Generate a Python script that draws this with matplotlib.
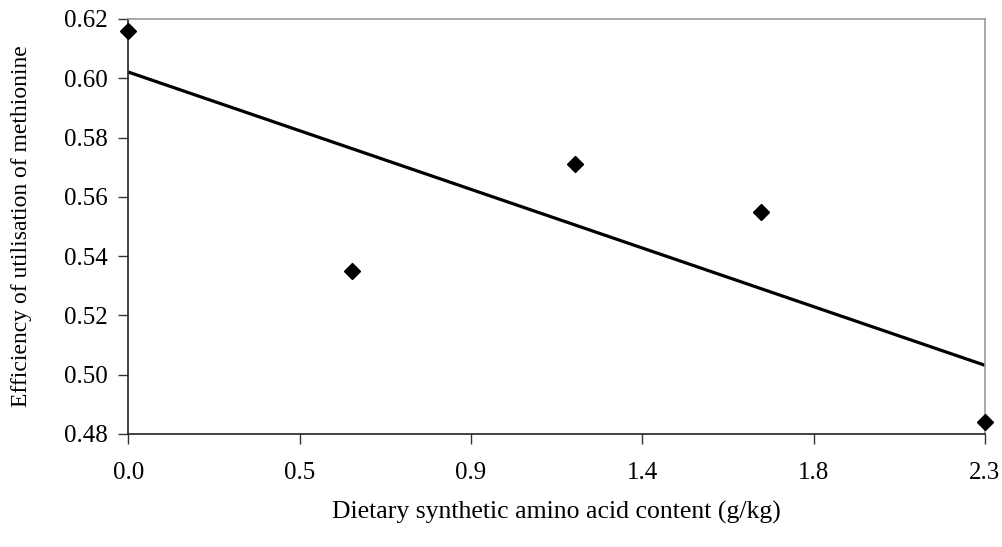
import numpy as np
import matplotlib
matplotlib.use('Agg')
import matplotlib.pyplot as plt

# ── Data ────────────────────────────────────────────────────────────────────
aa_content = [0.0, 0.6, 1.2, 1.7, 2.3]          # g/kg synthetic amino acid
efficiency = [0.616, 0.535, 0.571, 0.555, 0.484]  # utilisation of methionine

x_ticks = np.linspace(0.0, 2.3, 6)
x_tick_labels = ['0.0', '0.5', '0.9', '1.4', '1.8', '2.3']
y_ticks = [0.48, 0.50, 0.52, 0.54, 0.56, 0.58, 0.60, 0.62]

plt.rcParams['font.family'] = ['Liberation Serif', 'DejaVu Serif']

fig = plt.figure(figsize=(10.03, 5.47), dpi=100)
ax = fig.add_axes([0.128, 0.2066, 0.854, 0.7587])

# linear trend line (least squares)
slope, icpt = np.polyfit(aa_content, efficiency, 1)
xl = np.array([0.0, 2.3])
ax.plot(xl, icpt + slope * xl, color='black', lw=2.3, solid_capstyle='butt', zorder=2)

ax.plot(aa_content, efficiency, linestyle='none', marker='D', ms=8,
        color='black', clip_on=False, zorder=3)

ax.set_xlim(0, 2.3)
ax.set_ylim(0.48, 0.62)
ax.set_xticks(x_ticks)
ax.set_xticklabels(x_tick_labels)
ax.set_yticks(y_ticks)
ax.set_yticklabels([f'{v:.2f}' for v in y_ticks])
ax.tick_params(axis='both', direction='out', length=7, width=1, labelsize=18,
               color='#333333')
ax.tick_params(axis='x', pad=13)
ax.tick_params(axis='y', pad=8)

for s in ['left', 'bottom']:
    ax.spines[s].set_color('#222222')
    ax.spines[s].set_linewidth(1.2)
for s in ['top', 'right']:
    ax.spines[s].set_color('#999999')
    ax.spines[s].set_linewidth(1.2)

ax.set_xlabel('Dietary synthetic amino acid content (g/kg)', fontsize=18.5)
ax.set_ylabel('Efficiency of utilisation of methionine', fontsize=17)
ax.xaxis.set_label_coords(0.5, -0.162)
ax.yaxis.set_label_coords(-0.112, 0.5)

fig.savefig('out.png', dpi=100)
